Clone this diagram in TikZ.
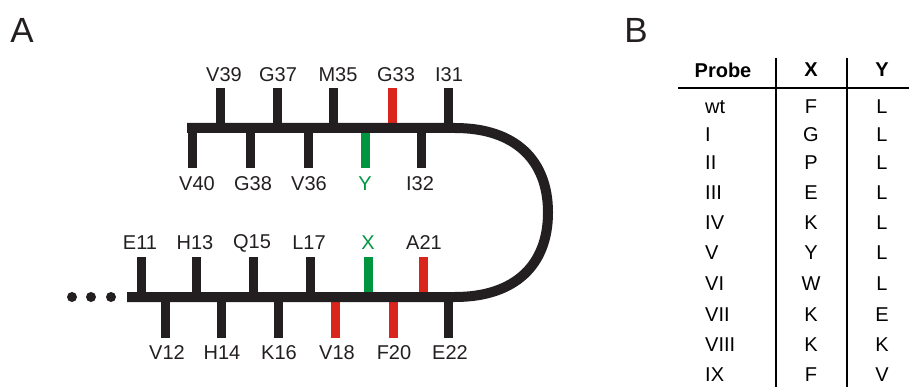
\documentclass[tikz,border=0pt]{standalone}
\usepackage{fontspec}
\setmainfont{Liberation Sans}
\definecolor{ink}{RGB}{35,31,32}
\definecolor{mred}{RGB}{218,37,29}
\definecolor{mgreen}{RGB}{0,150,64}
\begin{document}
\begin{tikzpicture}[x=1pt,y=-1pt,
  lab/.style={inner sep=0pt,font=\fontsize{20}{24}\selectfont,text=ink},
  big/.style={inner sep=0pt,font=\fontsize{35}{40}\selectfont,text=ink},
  tick/.style={line width=9pt,draw=ink,line cap=butt},
  tred/.style={tick,draw=mred},
  tgreen/.style={tick,draw=mgreen},
  strand/.style={line width=10pt,draw=ink,line cap=butt,line join=round},
  tab/.style={inner sep=0pt,font=\fontsize{20}{24}\selectfont,text=black},
  rule/.style={line width=2.6pt,draw=black}]
\useasboundingbox (0,0) rectangle (909,387);
% panel labels
\node[big] (A) at (22,30) {A};
\node[big] (B) at (636,30) {B};
% ---- top strand ticks
\draw[tick]   (220,128) -- (220,88);
\draw[tick]   (277,128) -- (277,88);
\draw[tick]   (333,128) -- (333,88);
\draw[tred]   (392,128) -- (392,88);
\draw[tick]   (448,128) -- (448,88);
\draw[tick]   (192,128) -- (192,168);
\draw[tick]   (250,128) -- (250,168);
\draw[tick]   (308,128) -- (308,168);
\draw[tgreen] (365,128) -- (365,168);
\draw[tick]   (421,128) -- (421,168);
% ---- bottom strand ticks
\draw[tick]   (141,297) -- (141,257);
\draw[tick]   (196,297) -- (196,257);
\draw[tick]   (253,297) -- (253,257);
\draw[tick]   (310,297) -- (310,257);
\draw[tgreen] (368,297) -- (368,257);
\draw[tred]   (423,297) -- (423,257);
\draw[tick]   (165,297) -- (165,338);
\draw[tick]   (221,297) -- (221,338);
\draw[tick]   (278,297) -- (278,338);
\draw[tred]   (335,297) -- (335,338);
\draw[tred]   (393,297) -- (393,338);
\draw[tick]   (448,297) -- (448,338);
% ---- backbone
\draw[strand] (187,128) -- (455,128)
  .. controls (515,128) and (548,160) .. (548,212.5)
  .. controls (548,265) and (515,297) .. (455,297) -- (127,297);
% dots
\fill[ink] (72,297) circle (5);
\fill[ink] (91,297) circle (5);
\fill[ink] (111,297) circle (5);
% ---- labels top strand
\node[lab] (v39) at (224,75) {V39};
\node[lab] (g37) at (278,75) {G37};
\node[lab] (m35) at (338,75) {M35};
\node[lab] (g33) at (396,75) {G33};
\node[lab] (i31) at (449,75) {I31};
\node[lab] (v40) at (197,184) {V40};
\node[lab] (g38) at (253,184) {G38};
\node[lab] (v36) at (309,184) {V36};
\node[lab,text=mgreen] (y) at (365,184) {Y};
\node[lab] (i32) at (420,184) {I32};
% ---- labels bottom strand
\node[lab] (e11) at (140,243) {E11};
\node[lab] (h13) at (195,243) {H13};
\node[lab] (q15) at (252,243) {Q15};
\node[lab] (l17) at (309,243) {L17};
\node[lab,text=mgreen] (x) at (368,243) {X};
\node[lab] (a21) at (424,243) {A21};
\node[lab] (v12) at (167,353) {V12};
\node[lab] (h14) at (222,353) {H14};
\node[lab] (k16) at (279,353) {K16};
\node[lab] (v18) at (337,353) {V18};
\node[lab] (f20) at (394,353) {F20};
\node[lab] (e22) at (450,353) {E22};
% ---- table
\draw[rule] (678,88) -- (909,88);
\draw[rule] (776,58) -- (776,387);
\draw[rule] (847,58) -- (847,387);
\node[tab,font=\fontsize{20}{24}\selectfont\bfseries] (hp) at (723,70) {Probe};
\node[tab,font=\fontsize{20}{24}\selectfont\bfseries] (hx) at (811,70) {X};
\node[tab,font=\fontsize{20}{24}\selectfont\bfseries] (hy) at (882,70) {Y};
\foreach \p/\xx/\yy/\r [count=\i] in {wt/F/L/107, I/G/L/135, II/P/L/163, III/E/L/193, IV/K/L/223, V/Y/L/253, VI/W/L/284, VII/K/E/315, VIII/K/K/345, IX/F/V/375}{
  \node[tab,anchor=west] (p\i) at (705,\r) {\p};
  \node[tab] (x\i) at (811,\r) {\xx};
  \node[tab] (y\i) at (882,\r) {\yy};
}
\end{tikzpicture}
\end{document}
